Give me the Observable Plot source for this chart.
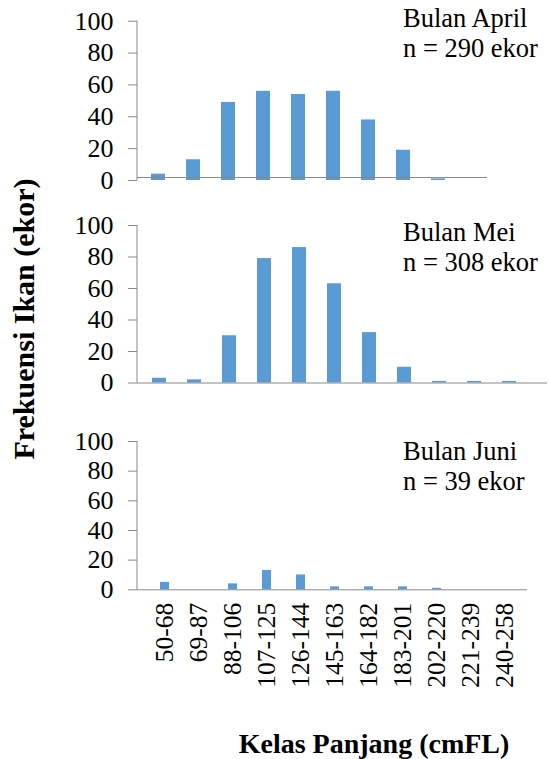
<!DOCTYPE html>
<html>
<head>
<meta charset="utf-8">
<script src="https://cdn.jsdelivr.net/npm/d3@7"></script>
<script src="https://cdn.jsdelivr.net/npm/@observablehq/plot@0.6"></script>
<style>
  html, body { margin: 0; padding: 0; background: #fff; }
  #wrap { position: relative; width: 549px; height: 759px; overflow: hidden; font-family: "Liberation Serif", "Times New Roman", serif; }
  #wrap svg, #wrap svg text { font-family: "Liberation Serif", "Times New Roman", serif !important; }
  .panel { position: absolute; left: 0; }
  .note { position: absolute; left: 403px; font-size: 26.5px; line-height: 30px; color: #000; white-space: nowrap; }
</style>
</head>
<body>
<div id="wrap"></div>
<script>
const categories = ["50-68", "69-87", "88-106", "107-125", "126-144", "145-163", "164-182", "183-201", "202-220", "221-239", "240-258"];
const april = [4, 13, 49, 56, 54, 56, 38, 19, 1, 0, 0];
const mei = [3, 2, 30, 79, 86, 63, 32, 10, 1, 1, 1];
const juni = [5, 0, 4, 13, 10, 2, 2, 2, 1, 0, 0];
const yTicks = [0, 20, 40, 60, 80, 100];
const notes = [
  ["Bulan April", "n = 290 ekor"],
  ["Bulan Mei", "n = 308 ekor"],
  ["Bulan Juni", "n = 39 ekor"]
];
const yTitle = "Frekuensi Ikan (ekor)";
const xTitle = "Kelas Panjang (cmFL)";

const BAR = "#5b9bd5";
const GRAY = "#898989";
const FONT = "Liberation Serif";

function yAxisLine(index, scales, values, dimensions) {
  const x = dimensions.marginLeft;
  const line = document.createElementNS("http://www.w3.org/2000/svg", "line");
  line.setAttribute("x1", x); line.setAttribute("x2", x);
  line.setAttribute("y1", scales.y(100)); line.setAttribute("y2", scales.y(0));
  line.setAttribute("stroke", GRAY);
  line.setAttribute("stroke-width", 1);
  return line;
}

function panel(values, cfg) {
  const data = categories.map((c, i) => ({cat: c, v: values[i]}));
  const marks = [
    Plot.barY(data, {x: "cat", y: "v", fill: BAR}),
    Plot.ruleY([0], {stroke: GRAY, dy: cfg.ruleDy || 0}),
    yAxisLine,
    Plot.axisY({ticks: yTicks, tickSize: 9, tickPadding: 15, fontSize: 26, fontFamily: FONT, stroke: GRAY, fill: "#000", label: null})
  ];
  if (cfg.xLabels) {
    marks.push(Plot.axisX({tickSize: 0, tickPadding: 13, tickRotate: -90, fontSize: 25.5, fontFamily: FONT, fill: "#000", label: null}));
  } else {
    marks.push(Plot.axisX({ticks: [], label: null}));
  }
  const el = Plot.plot({
    width: 549,
    height: cfg.height,
    marginLeft: 137,
    marginRight: cfg.marginRight,
    marginTop: cfg.marginTop,
    marginBottom: cfg.marginBottom,
    style: {fontFamily: FONT, color: "#000", background: "transparent", overflow: "visible"},
    x: {type: "band", domain: categories, range: cfg.range, paddingInner: cfg.pad, paddingOuter: cfg.pad / 2},
    y: {domain: [0, 100]},
    marks
  });
  el.style.fontFamily = FONT;
  return el;
}

const wrap = document.getElementById("wrap");
const cfgs = [
  {top: 0, height: 200, marginTop: 20.7, marginBottom: 20, marginRight: 62, range: [136.1, 529.4], pad: 0.61, ruleDy: -3},
  {top: 200, height: 200, marginTop: 25, marginBottom: 17.5, marginRight: 2, range: [141.1, 527.2], pad: 0.6},
  {top: 400, height: 300, marginTop: 41, marginBottom: 110.7, marginRight: 22, range: [142, 526.5], pad: 0.74, xLabels: true}
];
const series = [april, mei, juni];
cfgs.forEach((cfg, i) => {
  const el = panel(series[i], cfg);
  el.classList.add("panel");
  el.style.top = cfg.top + "px";
  el.style.position = "absolute";
  wrap.appendChild(el);
});

const noteTops = [2.5, 216.5, 435.8];
notes.forEach((lines, i) => {
  const d = document.createElement("div");
  d.className = "note";
  d.style.top = noteTops[i] + "px";
  d.innerHTML = lines.map(l => `<div>${l}</div>`).join("");
  wrap.appendChild(d);
});

const overlay = d3.create("svg")
  .attr("width", 549).attr("height", 759)
  .style("position", "absolute").style("left", 0).style("top", 0)
  .style("pointer-events", "none")
  .style("font-family", FONT);
overlay.append("text")
  .attr("transform", "translate(34,319) rotate(-90)")
  .attr("text-anchor", "middle")
  .attr("font-weight", "bold").attr("font-size", 30)
  .text(yTitle);
overlay.append("text")
  .attr("x", 374).attr("y", 753)
  .attr("text-anchor", "middle")
  .attr("font-weight", "bold").attr("font-size", 28)
  .text(xTitle);
wrap.appendChild(overlay.node());
</script>
</body>
</html>
